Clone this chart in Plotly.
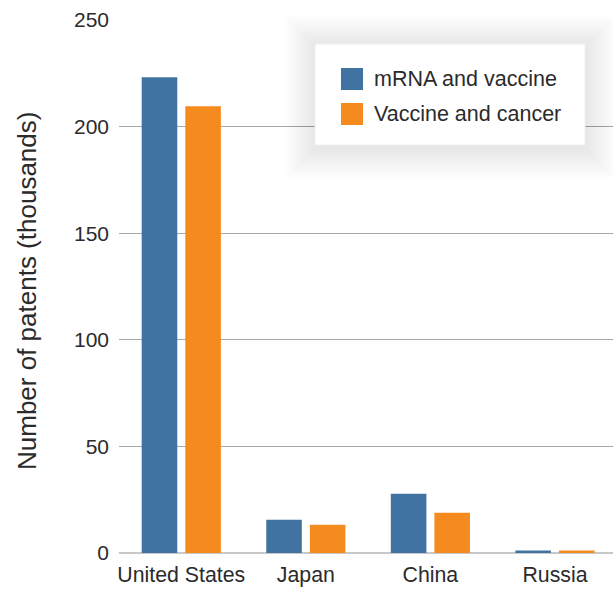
import plotly.graph_objects as go

countries = ["United States", "Japan", "China", "Russia"]
mrna_vaccine = [223.1, 15.6, 27.8, 1.2]
vaccine_cancer = [209.5, 13.2, 18.9, 1.2]
series_names = ["mRNA and vaccine", "Vaccine and cancer"]
y_ticks = [0, 50, 100, 150, 200, 250]

BLUE = "#4073a2"
ORANGE = "#f58a1f"
FONT = "Liberation Sans, Arial, Helvetica, sans-serif"
TXT = "#2b2b2b"

W, H = 613, 589
ML, MR, MT, MB = 119, 0, 20, 36
PW, PH = W - ML - MR, H - MT - MB


def px(x):
    return (x - ML) / PW


def py(y):
    return (H - MB - y) / PH


fig = go.Figure()
fig.add_trace(go.Bar(x=countries, y=mrna_vaccine, name=series_names[0],
                     marker=dict(color=BLUE, line=dict(width=0))))
fig.add_trace(go.Bar(x=countries, y=vaccine_cancer, name=series_names[1],
                     marker=dict(color=ORANGE, line=dict(width=0))))

shapes = []
# legend shadow (soft, layered)
bx0, bx1, by0, by1 = 315, 585, 44, 145
for i in range(24, 0, -1):
    d = i * 1.3
    shapes.append(dict(type="rect", xref="paper", yref="paper",
                       x0=px(bx0 - d), x1=px(bx1 + d), y0=py(by1 + d + 3), y1=py(by0 - d + 2),
                       fillcolor="rgba(0,0,0,0.0055)", line=dict(width=0), layer="above"))
shapes.append(dict(type="rect", xref="paper", yref="paper",
                   x0=px(bx0), x1=px(bx1), y0=py(by1), y1=py(by0),
                   fillcolor="white", line=dict(color="#f0f0f0", width=1), layer="above"))
annotations = []
for name, color, yc in [(series_names[0], BLUE, 79), (series_names[1], ORANGE, 114)]:
    shapes.append(dict(type="rect", xref="paper", yref="paper",
                       x0=px(341), x1=px(363), y0=py(yc + 11), y1=py(yc - 11),
                       fillcolor=color, line=dict(width=0), layer="above"))
    annotations.append(dict(text=name, xref="paper", yref="paper", x=px(372), y=py(yc),
                            xanchor="left", yanchor="middle", showarrow=False,
                            font=dict(family=FONT, size=21.5, color=TXT)))

annotations.append(dict(text="Number of patents (thousands)", xref="paper", yref="paper",
                        x=px(27), y=py(291), xanchor="center", yanchor="middle",
                        textangle=-90, showarrow=False,
                        font=dict(family=FONT, size=26, color=TXT)))

fig.update_layout(
    width=W, height=H,
    margin=dict(l=ML, r=MR, t=MT, b=MB, pad=0),
    paper_bgcolor="white", plot_bgcolor="white",
    barmode="group", bargap=0.30, bargroupgap=0.184,
    showlegend=False,
    font=dict(family=FONT, size=21, color=TXT),
    shapes=shapes, annotations=annotations,
    xaxis=dict(range=[-0.5, 3.466], showgrid=False, zeroline=False,
               showline=False, ticks="", tickfont=dict(size=21.3, color=TXT),
               ticklabelstandoff=7, fixedrange=True),
    yaxis=dict(range=[0, 250], tickvals=y_ticks, showgrid=True,
               gridcolor="#a8a8a8", gridwidth=1, zeroline=True,
               zerolinecolor="#c8c8c8", zerolinewidth=2, showline=False,
               ticks="", tickfont=dict(size=21, color=TXT),
               ticklabelstandoff=9, fixedrange=True),
)

fig.write_html("out.html")
